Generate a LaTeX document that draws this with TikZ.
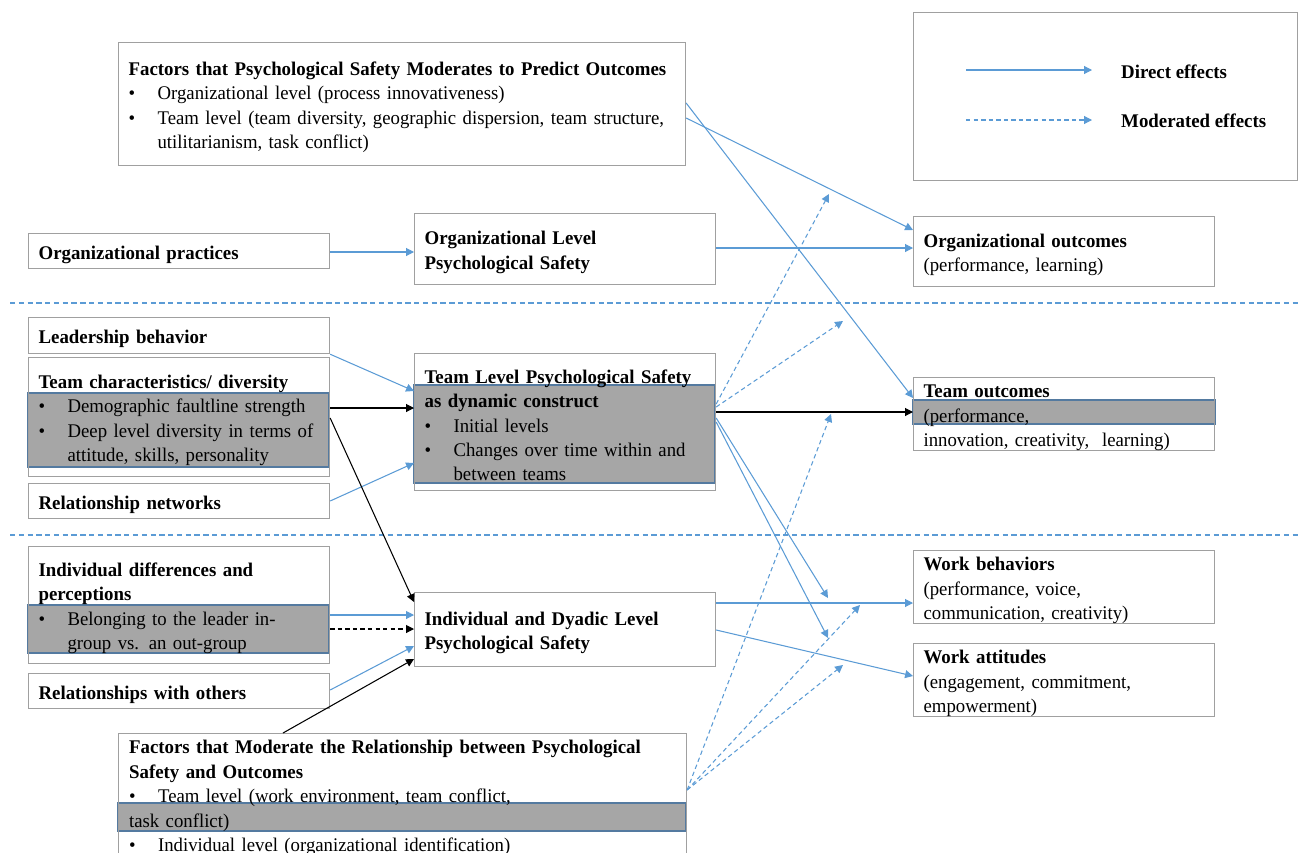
\documentclass[tikz,border=0pt]{standalone}
\usepackage{fontspec}
\setmainfont{Liberation Serif}[FakeStretch=0.97,BoldFeatures={FakeStretch=0.975}]
\usepackage{xcolor}
\usepackage{tikz}
\usetikzlibrary{arrows.meta}
\usetikzlibrary{positioning}
\usetikzlibrary{calc,backgrounds}

\definecolor{effblue}{RGB}{91,155,213}
\definecolor{boxgray}{RGB}{160,160,160}
\definecolor{bandgray}{RGB}{166,166,166}
\definecolor{bandedge}{RGB}{84,122,160}

\hyphenpenalty=10000
\exhyphenpenalty=10000

\newcommand{\bitem}[1]{\makebox[0.58cm][l]{\textbullet}#1}
\newcommand{\bcont}{\hspace*{0.58cm}}

\begin{document}
\begin{tikzpicture}[x=0.02cm,y=-0.02cm,
        font=\fontsize{11}{13.9}\selectfont,
        box/.style={draw=boxgray,line width=0.7pt,anchor=north west,align=left,
            inner xsep=0.2cm,inner ysep=0pt,text width=5.62cm,minimum width=6.02cm,
            execute at begin node={\rule{0pt}{11.5pt}}},
        widebox/.style={box,text width=10.94cm,minimum width=11.34cm},
        band/.style={fill=bandgray,draw=bandedge,line width=0.6pt},
        direct/.style={draw=effblue,line width=0.6pt,-{Triangle[length=4.5pt,width=4.5pt]}},
        moder/.style={direct,dash pattern=on 2.5pt off 1.8pt},
        plain/.style={draw=black,line width=0.6pt,-{Triangle[length=4.5pt,width=4.5pt]}},
        sep/.style={draw=effblue,line width=0.6pt,dash pattern=on 3pt off 2pt}]
        \useasboundingbox (0,0) rectangle (1301,852);
        \clip (0,0) rectangle (1301,852);

        \node[widebox,minimum height=2.46cm] (modtop) at (118,42) {\textbf{Factors that Psychological Safety Moderates to Predict Outcomes}\\
            \bitem{Organizational level (process innovativeness)}\\
            \bitem{Team level (team diversity, geographic dispersion, team structure,}\\
            \bcont utilitarianism, task conflict)};
        \node[box,minimum height=3.36cm,minimum width=7.68cm,text width=7.28cm] (legend) at (913,12) {};

        \node[box,minimum height=0.7cm] (orgprac) at (28,233) {\textbf{Organizational practices}};
        \node[box,minimum height=1.42cm] (orgps) at (414,213) {\textbf{Organizational Level}\\\textbf{Psychological Safety}};
        \node[box,minimum height=1.4cm] (orgout) at (913,216) {\textbf{Organizational outcomes}\\(performance, learning)};

        \node[box,minimum height=0.72cm] (leader) at (28,317) {\textbf{Leadership behavior}};
        \node[box,minimum height=2.38cm] (teamchar) at (28,357) {\textbf{Team characteristics/ diversity}\\
            \bitem{Demographic faultline strength}\\
            \bitem{Deep level diversity in terms of}\\
            \bcont attitude, skills, personality};
        \node[box,minimum height=0.7cm] (relnet) at (28,483) {\textbf{Relationship networks}};
        \node[box,minimum height=2.74cm] (teamps) at (414,353) {\textbf{Team Level Psychological Safety}\\
            \textbf{as dynamic construct}\\
            \bitem{Initial levels}\\
            \bitem{Changes over time within and}\\
            \bcont between teams};
        \node[box,minimum height=1.42cm] (teamout) at (913,377) {\textbf{Team outcomes}\\(performance,\\innovation, creativity,\ \ learning)};

        \node[box,minimum height=2.34cm] (indiff) at (28,546) {\textbf{Individual differences and}\\
            \textbf{perceptions}\\
            \bitem{Belonging to the leader in-}\\
            \bcont group vs. an out-group};
        \node[box,minimum height=0.7cm] (reloth) at (28,673) {\textbf{Relationships with others}};
        \node[box,minimum height=1.48cm] (indps) at (414,592) {\textbf{Individual and Dyadic Level}\\\textbf{Psychological Safety}};
        \node[box,minimum height=1.42cm] (workbeh) at (913,550) {\textbf{Work behaviors}\\(performance, voice,\\communication, creativity)};
        \node[box,minimum height=1.4cm] (workatt) at (913,643) {\textbf{Work attitudes}\\(engagement, commitment,\\empowerment)};

        \node[widebox,minimum height=2.4cm,minimum width=11.36cm] (modbot) at (118,733) {\textbf{Factors that Moderate the Relationship between Psychological}\\
            \textbf{Safety and Outcomes}\\
            \bitem{Team level (work environment, team conflict,}\\
            task conflict)\\
            \bitem{Individual level (organizational identification)}};

        \begin{scope}[on background layer]
            \draw[band] (28,393) rectangle (329,467);
            \draw[band] (414,385) rectangle (715,483);
            \draw[band] (913,400) rectangle (1215,424);
            \draw[band] (28,605) rectangle (329,653);
            \draw[band] (118,803) rectangle (686,831);
        \end{scope}

        \draw[sep] (10,303) -- (1301,303);
        \draw[sep] (10,535) -- (1301,535);

        \node[anchor=west,font=\fontsize{11}{13.9}\selectfont\bfseries] (ldirect) at (1115,72) {Direct effects};
        \node[anchor=west,font=\fontsize{11}{13.9}\selectfont\bfseries] (lmoder) at (1115,121) {Moderated effects};
        \coordinate (ld0) at (966,70);
        \coordinate (lm0) at (966,120);
        \draw[direct] (ld0) -- (ld0 -| 1092,0);
        \draw[moder] (lm0) -- (lm0 -| 1092,0);

        \coordinate (tb1) at (828,598);
        \coordinate (tb2) at (828,638);
        \coordinate (m1) at (829,194);
        \coordinate (m2) at (843,321);
        \coordinate (m3) at (831,414);
        \coordinate (m4) at (860,605);
        \coordinate (m5) at (843,665);

        \draw[direct] (modtop.east |- 0,103) -- (teamout.west |- 0,398);
        \draw[direct] (modtop.east |- 0,118) -- (orgout.west |- 0,230);
        \draw[direct] (orgprac.east |- 0,252) -- (orgps.west |- 0,252);
        \draw[direct] (orgps.east |- 0,248) -- (orgout.west |- 0,248);
        \draw[direct] (leader.south east) -- (teamps.west |- 0,391);
        \draw[direct] (relnet.east |- 0,501) -- (teamps.west |- 0,463);
        \draw[plain] (teamchar.east |- 0,408) -- (teamps.west |- 0,408);
        \draw[plain] (teamchar.east |- 0,418) -- (indps.west |- 0,602);
        \draw[plain] (teamps.east |- 0,412) -- (teamout.west |- 0,412);
        \draw[direct] (teamps.east |- 0,418) -- (tb1);
        \draw[direct] (teamps.east |- 0,422) -- (tb2);
        \draw[direct] (indps.east |- 0,603) -- (workbeh.west |- 0,603);
        \draw[direct] (indps.east |- 0,630) -- (workatt.west |- 0,676);
        \draw[direct] (indiff.east |- 0,615) -- (indps.west |- 0,615);
        \draw[plain,dash pattern=on 2.5pt off 1.8pt] (indiff.east |- 0,629) -- (indps.west |- 0,629);
        \draw[direct] (reloth.east |- 0,690) -- (indps.west |- 0,646);
        \draw[plain] (modbot.north -| 283,0) -- (indps.west |- 0,659);

        \draw[moder] (teamps.east |- 0,404) -- (m1);
        \draw[moder] (teamps.east |- 0,407) -- (m2);
        \draw[moder] (modbot.east |- 0,790) -- (m3);
        \draw[moder] (modbot.east |- 0,790) -- (m4);
        \draw[moder] (modbot.east |- 0,790) -- (m5);
    \end{tikzpicture}
\end{document}
